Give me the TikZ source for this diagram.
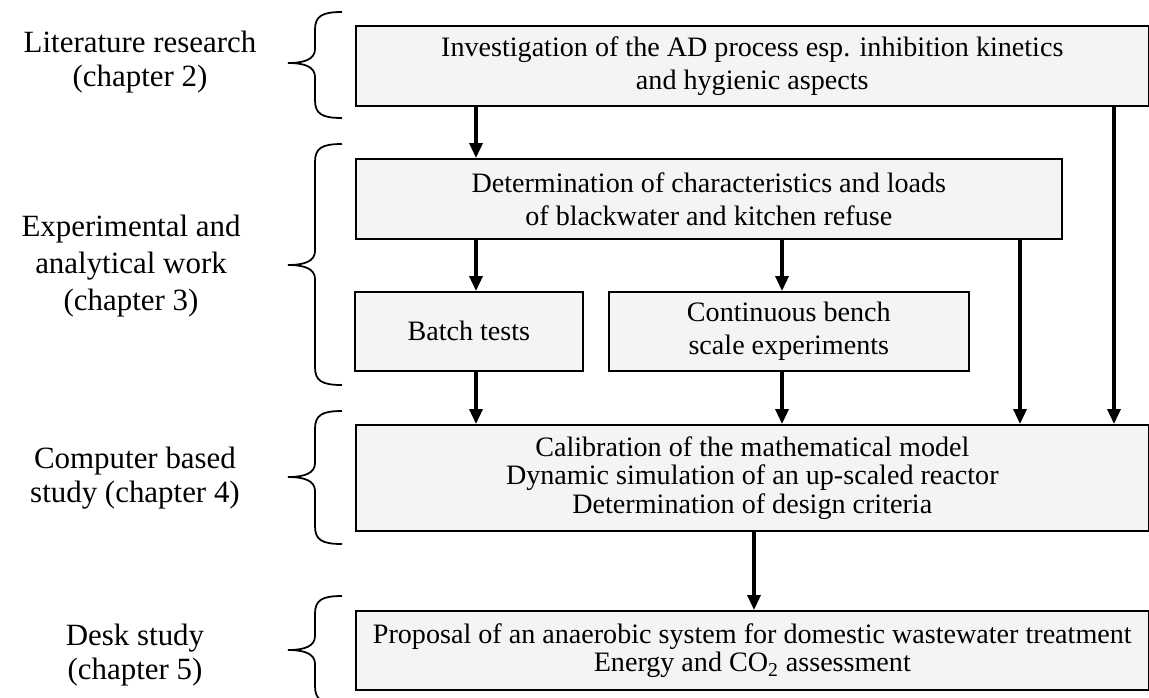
\documentclass[tikz,border=0pt]{standalone}
\usepackage{fontspec}
\setmainfont{Liberation Serif}
\usetikzlibrary{arrows.meta}

\begin{document}
\begin{tikzpicture}[x=0.02cm, y=-0.02cm,
    font=\fontsize{17.6}{19.8}\selectfont,
    box/.style={draw, line width=1pt, fill=gray!9, align=center,
                inner sep=0pt, anchor=north west,
                font=\fontsize{16}{18.8}\selectfont},
    tight/.style={font=\fontsize{16}{16.2}\selectfont},
    chapter/.style={align=center},
    flow/.style={line width=1.8pt, -{Triangle[length=8.5pt, width=7.4pt]}},
    brace/.style={line width=1pt}]
  \useasboundingbox (0, 0) rectangle (1149, 697);
  % boxes
  \node (inv) [box, minimum width=15.86cm, minimum height=1.6cm] at (355, 25)
        {Investigation of the AD process esp. inhibition kinetics\\and hygienic aspects};
  \node (det) [box, minimum width=14.12cm, minimum height=1.6cm] at (355, 158)
        {Determination of characteristics and loads\\of blackwater and kitchen refuse};
  \node (bt) [box, minimum width=4.56cm, minimum height=1.58cm] at (354, 291)
        {Batch tests};
  \node (cb) [box, minimum width=7.2cm, minimum height=1.58cm] at (608, 291)
        {Continuous bench\\scale experiments};
  \node (cal) [box, tight, minimum width=15.86cm, minimum height=2.12cm] at (355, 424)
        {Calibration of the mathematical model\\Dynamic simulation of an up-scaled reactor\\Determination of design criteria};
  \node (prop) [box, tight, minimum width=15.86cm, minimum height=1.58cm] at (355, 610)
        {Proposal of an anaerobic system for domestic wastewater treatment\\Energy and CO\textsubscript{2} assessment};
  % chapters
  \node (lit) [chapter] at (140, 62) {Literature research\\(chapter 2)};
  \node (exp) [chapter, font=\fontsize{17.6}{21}\selectfont] at (131, 266)
        {Experimental and\\analytical work\\(chapter 3)};
  \node (comp) [chapter] at (135, 478) {Computer based\\study (chapter 4)};
  \node (desk) [chapter] at (135, 655) {Desk study\\(chapter 5)};
  % braces
  \foreach \t/\m/\b in {12/63/118, 144/265/385, 411/477/544, 596/650/704}
    \draw[brace] (342, \t) .. controls (322, \t) and (315, \t+4) .. (315, \t+18)
          -- (315, \m-14) .. controls (315, \m-4) and (305, \m) .. (288, \m)
          .. controls (305, \m) and (315, \m+4) .. (315, \m+14)
          -- (315, \b-18) .. controls (315, \b-4) and (322, \b) .. (342, \b);
  % arrows
  \coordinate (c1) at (476, 0);
  \coordinate (c2) at (782, 0);
  \coordinate (c3) at (1020, 0);
  \coordinate (c4) at (1114, 0);
  \coordinate (c5) at (754, 0);
  \foreach \from/\to/\col in {inv/det/c1, det/bt/c1, det/cb/c2, bt/cal/c1,
                              cb/cal/c2, det/cal/c3, inv/cal/c4, cal/prop/c5}
    \draw[flow] (\from.south -| \col) -- (\to.north -| \col);
\end{tikzpicture}
\end{document}
